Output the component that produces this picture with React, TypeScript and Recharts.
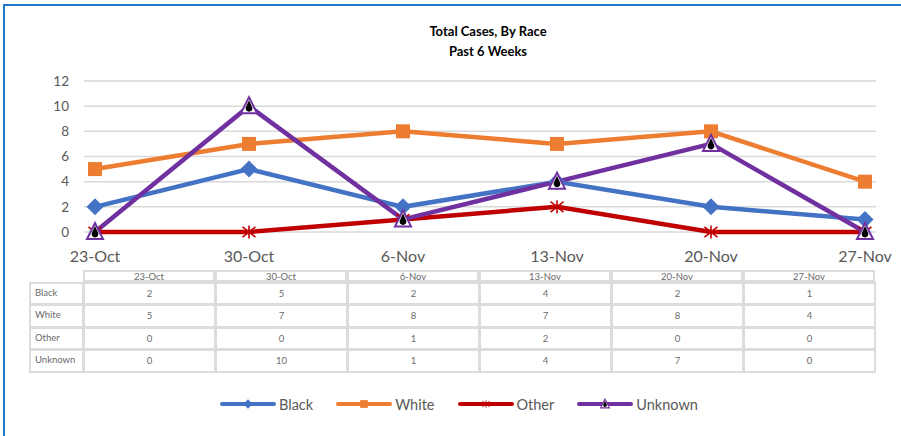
import { LineChart, Line, XAxis, YAxis, CartesianGrid } from "recharts";

const categories = ["23-Oct", "30-Oct", "6-Nov", "13-Nov", "20-Nov", "27-Nov"];
const black = [2, 5, 2, 4, 2, 1];
const white = [5, 7, 8, 7, 8, 4];
const other = [0, 0, 1, 2, 0, 0];
const unknown = [0, 10, 1, 4, 7, 0];
const yTicks = [0, 2, 4, 6, 8, 10, 12];

const series = [
  { key: "Black", values: black, color: "#4472C4", marker: "diamond" },
  { key: "White", values: white, color: "#ED7D31", marker: "square" },
  { key: "Other", values: other, color: "#C00000", marker: "star" },
  { key: "Unknown", values: unknown, color: "#7030A0", marker: "triangle" },
];

const data = categories.map((c, i) => {
  const row: any = { week: c };
  series.forEach((s) => (row[s.key] = s.values[i]));
  return row;
});

const FONT = "Lato, 'Open Sans', sans-serif";
const GRAY = "#595959";

function Marker({ type, cx, cy, color, scale = 1 }: any) {
  const k = scale;
  if (type === "diamond") {
    const w = 8.5 * k;
    const h = 8.5 * k;
    return (
      <polygon
        points={`${cx},${cy - h} ${cx + w},${cy} ${cx},${cy + h} ${cx - w},${cy}`}
        fill={color}
      />
    );
  }
  if (type === "square") {
    const s = 7 * k;
    return <rect x={cx - s} y={cy - s} width={2 * s} height={2 * s} fill={color} />;
  }
  if (type === "star") {
    const r = 6.5 * k;
    return (
      <g stroke={color} strokeWidth={1.6 * k} strokeLinecap="butt">
        <line x1={cx - r} y1={cy - r * 0.8} x2={cx + r} y2={cy + r * 0.8} />
        <line x1={cx - r} y1={cy + r * 0.8} x2={cx + r} y2={cy - r * 0.8} />
        <line x1={cx} y1={cy - r} x2={cx} y2={cy + r} />
      </g>
    );
  }
  const hw = 8 * k;
  const top = cy - 9 * k;
  const bot = cy + 7 * k;
  return (
    <g>
      <polygon
        points={`${cx},${top} ${cx + hw},${bot} ${cx - hw},${bot}`}
        fill="#ffffff"
        stroke={color}
        strokeWidth={2 * k}
        strokeLinejoin="miter"
      />
      <path
        d={`M${cx},${cy - 6 * k} L${cx + 3.2 * k},${cy + 1 * k} A${3.4 * k},${3.4 * k} 0 1 1 ${cx - 3.2 * k},${cy + 1 * k} Z`}
        fill="#000000"
      />
    </g>
  );
}

const makeDot = (type: string, color: string) => (props: any) => {
  const { cx, cy, index } = props;
  return (
    <g key={`${type}-${index}`}>
      <Marker type={type} cx={cx} cy={cy} color={color} />
    </g>
  );
};

const colLeft = 84;
const colW = 132;
const labelLeft = 30;
const headerTop = 271;
const headerH = 12;
const rowH = 22.4;
const border = "2px solid #DCDCDC";
const TABLE_GRAY = "#6a6a6a";

function DataTable() {
  const cells: any[] = [];
  categories.forEach((c, i) => {
    cells.push(
      <div
        key={`h${i}`}
        style={{
          position: "absolute",
          left: colLeft + i * colW,
          top: headerTop,
          width: colW,
          height: headerH,
          border,
          boxSizing: "border-box",
          marginLeft: -1,
          marginTop: -1,
          fontSize: 9.5,
          lineHeight: `${headerH - 2}px`,
          textAlign: "center",
          color: TABLE_GRAY,
        }}
      >
        {c}
      </div>
    );
  });
  series.forEach((s, r) => {
    const top = headerTop + headerH + r * rowH;
    cells.push(
      <div
        key={`l${r}`}
        style={{
          position: "absolute",
          left: labelLeft,
          top,
          width: colLeft - labelLeft + 1,
          height: rowH + 1,
          border,
          boxSizing: "border-box",
          marginLeft: -1,
          marginTop: -1,
          fontSize: 9.5,
          lineHeight: `${rowH - 4}px`,
          paddingLeft: 4,
          color: TABLE_GRAY,
        }}
      >
        {s.key}
      </div>
    );
    s.values.forEach((v, i) => {
      cells.push(
        <div
          key={`c${r}-${i}`}
          style={{
            position: "absolute",
            left: colLeft + i * colW,
            top,
            width: colW + 1,
            height: rowH + 1,
            border,
            boxSizing: "border-box",
            marginLeft: -1,
            marginTop: -1,
            fontSize: 9.5,
            lineHeight: `${rowH - 2}px`,
            textAlign: "center",
            color: TABLE_GRAY,
          }}
        >
          {v}
        </div>
      );
    });
  });
  return <>{cells}</>;
}

function LegendRow() {
  return (
    <div
      style={{
        position: "absolute",
        left: 220,
        top: 394,
        display: "flex",
        alignItems: "center",
        gap: 23,
        fontSize: 14.5,
        color: GRAY,
      }}
    >
      {series.map((s) => (
        <div key={s.key} style={{ display: "flex", alignItems: "center", gap: 3 }}>
          <svg width={56} height={20}>
            <line x1={2} y1={10} x2={54} y2={10} stroke={s.color} strokeWidth={4} strokeLinecap="round" />
            <Marker type={s.marker} cx={28} cy={10} color={s.color} scale={0.55} />
          </svg>
          <span>{s.key}</span>
        </div>
      ))}
    </div>
  );
}

export default function App() {
  return (
    <div
      style={{
        position: "absolute",
        left: 0,
        top: 0,
        width: 901,
        height: 436,
        background: "#ffffff",
        fontFamily: FONT,
        overflow: "hidden",
      }}
    >
      <div
        style={{
          position: "absolute",
          left: 3,
          top: 4,
          width: 920,
          height: 460,
          borderLeft: "2px solid #1F78CD",
          borderTop: "2px solid #1F78CD",
        }}
      />
      <div
        style={{
          position: "absolute",
          left: 288,
          width: 400,
          top: 21,
          textAlign: "center",
          fontWeight: 700,
          fontSize: 13,
          lineHeight: "20px",
          color: "#000",
        }}
      >
        <div>Total Cases, By Race</div>
        <div>Past 6 Weeks</div>
      </div>
      <div style={{ position: "absolute", left: 0, top: 0 }}>
        <LineChart
          width={901}
          height={270}
          data={data}
          margin={{ top: 81, right: 25, bottom: 8, left: 24 }}
        >
          <CartesianGrid vertical={false} stroke="#D9D9D9" strokeWidth={1.5} />
          <XAxis
            dataKey="week"
            height={30}
            padding={{ left: 11, right: 11 }}
            axisLine={false}
            tickLine={false}
            tickSize={0}
            tickMargin={19}
            interval={0}
            tick={{ fill: GRAY, fontSize: 16, fontFamily: FONT }}
          />
          <YAxis
            width={60}
            domain={[0, 12]}
            ticks={yTicks}
            axisLine={false}
            tickLine={false}
            tickSize={0}
            tickMargin={15}
            tick={{ fill: GRAY, fontSize: 13.5, fontFamily: FONT }}
          />
          {series.map((s) => (
            <Line
              key={s.key}
              dataKey={s.key}
              type="linear"
              stroke={s.color}
              strokeWidth={4.5}
              dot={makeDot(s.marker, s.color)}
              activeDot={false}
              isAnimationActive={false}
            />
          ))}
        </LineChart>
      </div>
      <DataTable />
      <LegendRow />
    </div>
  );
}
